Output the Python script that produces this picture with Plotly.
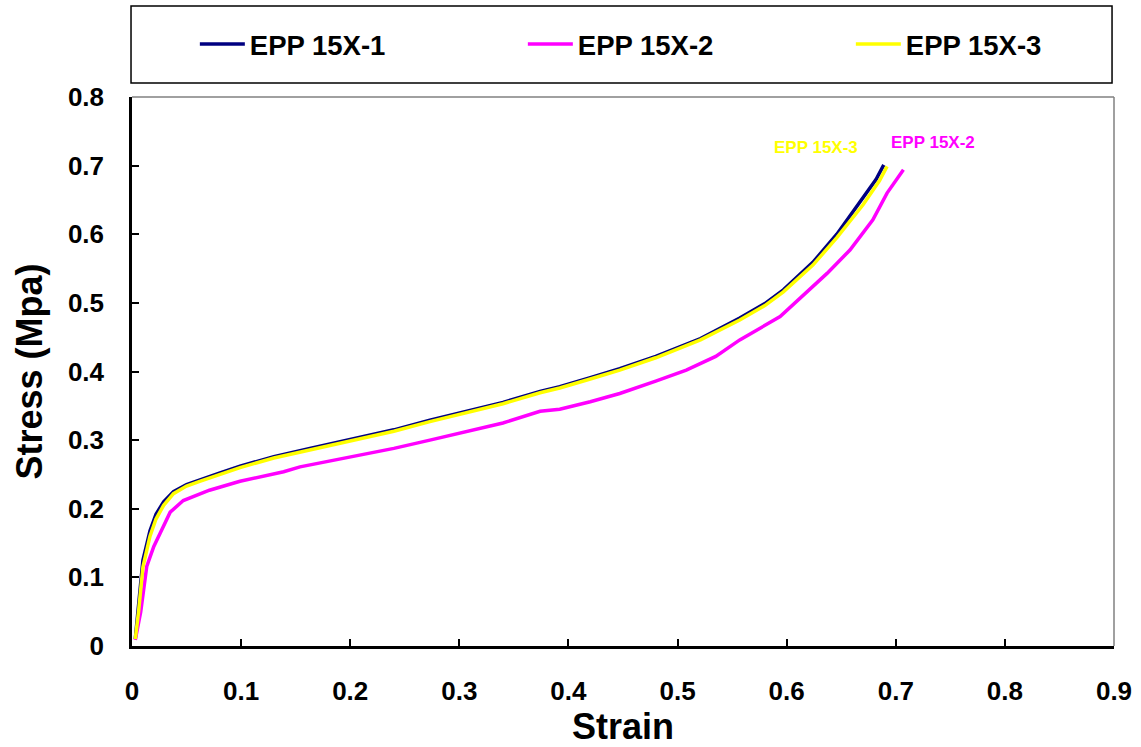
import plotly.graph_objects as go

# EPP 15X-1 (navy)
strain_1 = [0.003, 0.006, 0.010, 0.0165, 0.022, 0.029, 0.038, 0.050, 0.062, 0.080, 0.099,
            0.130, 0.163, 0.200, 0.240, 0.273, 0.300, 0.340, 0.374, 0.392, 0.420, 0.447,
            0.480, 0.521, 0.557, 0.580, 0.597, 0.624, 0.646, 0.668, 0.682, 0.689]
stress_1 = [0.010, 0.060, 0.125, 0.168, 0.192, 0.210, 0.225, 0.235, 0.242, 0.252, 0.262,
            0.276, 0.288, 0.301, 0.315, 0.329, 0.339, 0.355, 0.371, 0.378, 0.391, 0.404,
            0.422, 0.448, 0.478, 0.499, 0.519, 0.559, 0.600, 0.648, 0.680, 0.701]

# EPP 15X-2 (magenta)
strain_2 = [0.003, 0.008, 0.0135, 0.020, 0.026, 0.035, 0.047, 0.071, 0.099, 0.139, 0.154,
            0.197, 0.240, 0.273, 0.300, 0.340, 0.374, 0.392, 0.420, 0.447, 0.480, 0.508,
            0.535, 0.557, 0.594, 0.621, 0.637, 0.658, 0.679, 0.692, 0.707]
stress_2 = [0.009, 0.050, 0.116, 0.145, 0.165, 0.195, 0.212, 0.227, 0.240, 0.254, 0.261,
            0.274, 0.288, 0.300, 0.310, 0.325, 0.342, 0.345, 0.356, 0.368, 0.386, 0.402,
            0.422, 0.446, 0.480, 0.519, 0.543, 0.577, 0.621, 0.660, 0.694]

# EPP 15X-3 (yellow)
strain_3 = [0.003, 0.006, 0.010, 0.0165, 0.022, 0.029, 0.038, 0.050, 0.062, 0.080, 0.099,
            0.130, 0.163, 0.200, 0.240, 0.273, 0.300, 0.340, 0.374, 0.392, 0.420, 0.447,
            0.480, 0.521, 0.557, 0.580, 0.597, 0.624, 0.646, 0.670, 0.685, 0.692]
stress_3 = [0.010, 0.050, 0.115, 0.160, 0.185, 0.205, 0.222, 0.233, 0.240, 0.250, 0.260,
            0.274, 0.286, 0.299, 0.313, 0.327, 0.337, 0.353, 0.369, 0.376, 0.389, 0.402,
            0.420, 0.446, 0.475, 0.496, 0.516, 0.555, 0.595, 0.643, 0.678, 0.699]

series_names = ["EPP 15X-1", "EPP 15X-2", "EPP 15X-3"]
colors = ["#000080", "#FF00FF", "#FFFF00"]

x_ticks = [0, 0.1, 0.2, 0.3, 0.4, 0.5, 0.6, 0.7, 0.8, 0.9]
y_ticks = [0, 0.1, 0.2, 0.3, 0.4, 0.5, 0.6, 0.7, 0.8]

FONT = "Arial, 'Liberation Sans', sans-serif"

fig = go.Figure()
fig.add_trace(go.Scatter(x=strain_1, y=stress_1, mode="lines", name=f"<b>{series_names[0]}</b>",
                         line=dict(color=colors[0], width=3.5)))
fig.add_trace(go.Scatter(x=strain_2, y=stress_2, mode="lines", name=f"<b>{series_names[1]}</b>",
                         line=dict(color=colors[1], width=3.5)))
fig.add_trace(go.Scatter(x=strain_3, y=stress_3, mode="lines", name=f"<b>{series_names[2]}</b>",
                         line=dict(color=colors[2], width=3.5)))

# gray top/right border of plot area
fig.add_shape(type="line", xref="paper", yref="paper", x0=0, x1=1, y0=1, y1=1,
              line=dict(color="#808080", width=1.5))
fig.add_shape(type="line", xref="paper", yref="paper", x0=1, x1=1, y0=0, y1=1,
              line=dict(color="#808080", width=1.5))
# legend box
fig.add_shape(type="rect", xref="paper", yref="paper", x0=-0.001, x1=0.998,
              y0=1.0255, y1=1.1658, line=dict(color="black", width=1.5))

fig.add_annotation(x=0.627, y=0.726, xref="x", yref="y", text="<b>EPP 15X-3</b>",
                   showarrow=False, font=dict(family=FONT, size=17, color=colors[2]))
fig.add_annotation(x=0.734, y=0.734, xref="x", yref="y", text="<b>EPP 15X-2</b>",
                   showarrow=False, font=dict(family=FONT, size=17, color=colors[1]))

fig.update_layout(
    width=1141, height=747,
    margin=dict(l=132, r=27, t=97, b=101, autoexpand=False),
    paper_bgcolor="white", plot_bgcolor="white",
    font=dict(family=FONT, color="black"),
    showlegend=True,
    legend=dict(orientation="h", x=0.064, y=1.0965, xanchor="left", yanchor="middle",
                bgcolor="rgba(0,0,0,0)", borderwidth=0,
                font=dict(family=FONT, size=27.5, color="black"),
                entrywidth=268, entrywidthmode="pixels", itemwidth=45,
                tracegroupgap=0),
    xaxis=dict(range=[0, 0.9], tickvals=x_ticks, ticktext=[f"<b>{v:g}</b>" for v in x_ticks],
               ticks="inside", ticklen=7, tickwidth=2, tickcolor="black",
               showline=True, linecolor="black", linewidth=2.5,
               showgrid=False, zeroline=False,
               tickfont=dict(family=FONT, size=26, color="black"),
               ticklabelstandoff=20,
               title=dict(text="<b>Strain</b>", font=dict(family=FONT, size=36), standoff=10)),
    yaxis=dict(range=[0, 0.8], tickvals=y_ticks, ticktext=[f"<b>{v:g}</b>" for v in y_ticks],
               ticks="inside", ticklen=7, tickwidth=2, tickcolor="black",
               showline=True, linecolor="black", linewidth=2.5,
               showgrid=False, zeroline=False,
               tickfont=dict(family=FONT, size=26, color="black"),
               ticklabelstandoff=20,
               title=dict(text="<b>Stress (Mpa)</b>", font=dict(family=FONT, size=36), standoff=15)),
)

fig.write_html("out.html")
